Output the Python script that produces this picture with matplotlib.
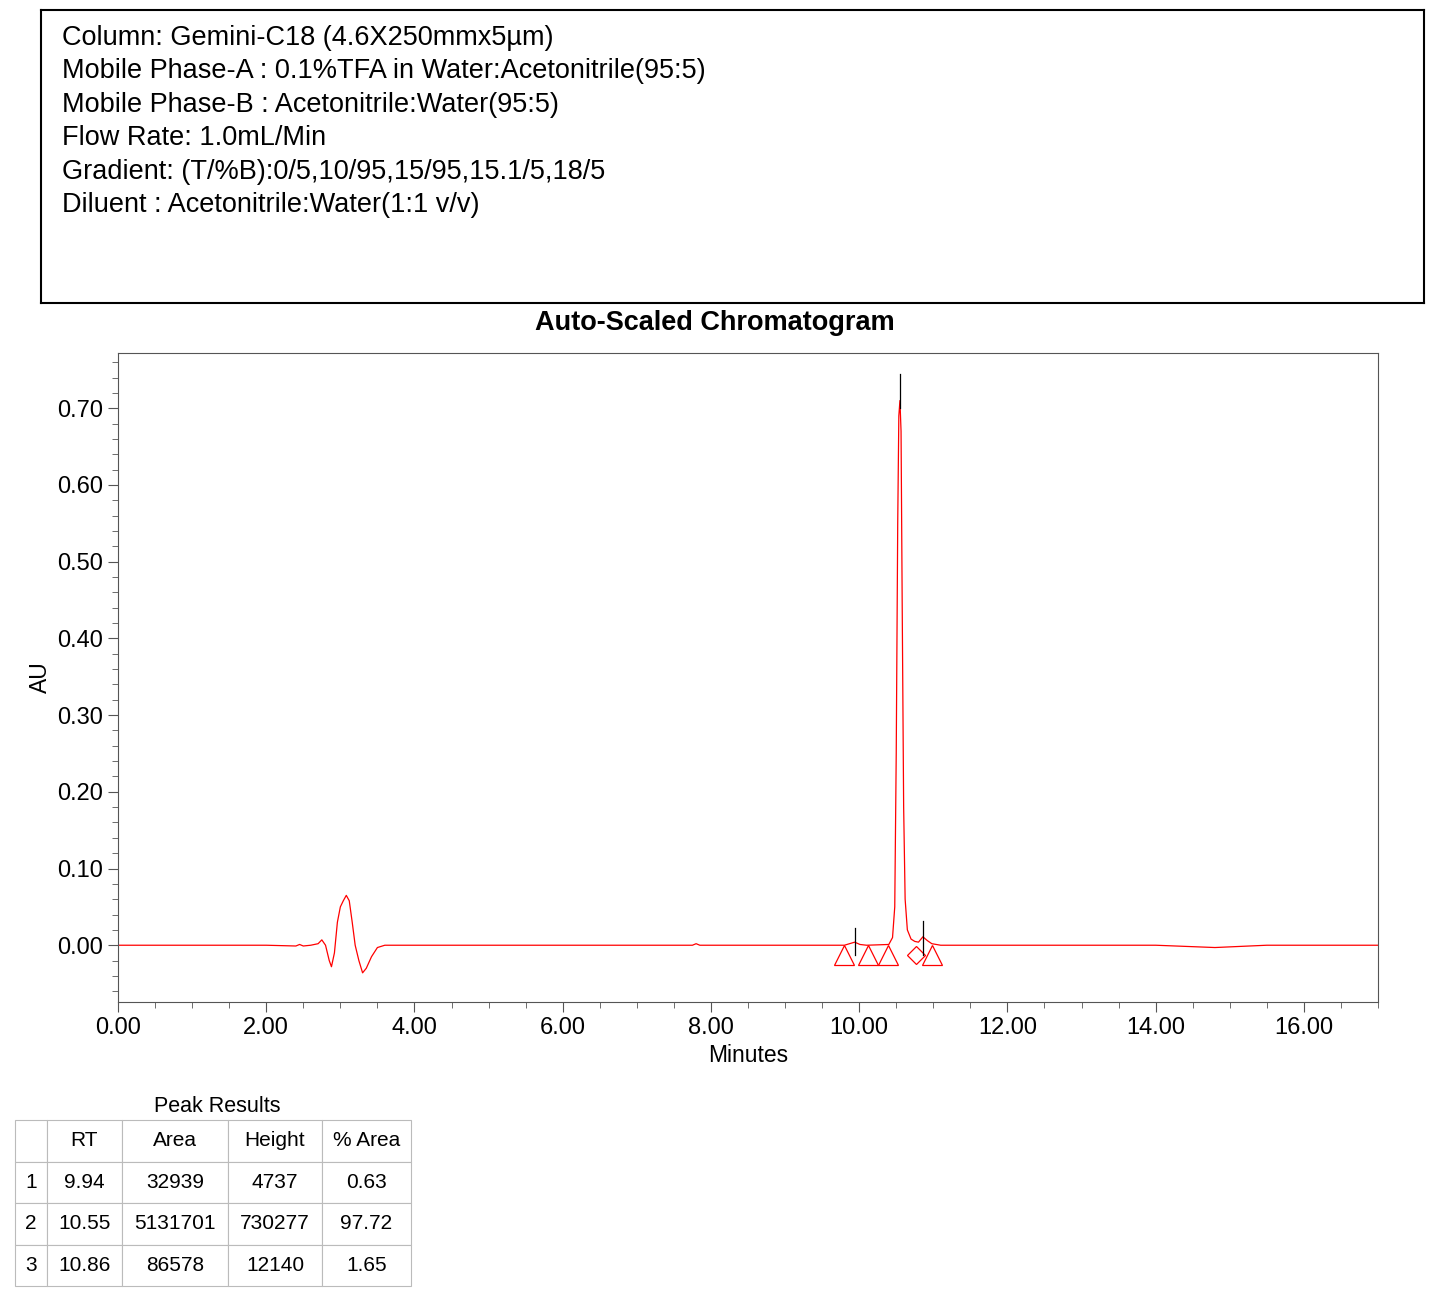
import matplotlib
matplotlib.use("Agg")
import matplotlib.pyplot as plt
from matplotlib.ticker import MultipleLocator, FormatStrFormatter

info_lines = [
    "Column: Gemini-C18 (4.6X250mmx5µm)",
    "Mobile Phase-A : 0.1%TFA in Water:Acetonitrile(95:5)",
    "Mobile Phase-B : Acetonitrile:Water(95:5)",
    "Flow Rate: 1.0mL/Min",
    "Gradient: (T/%B):0/5,10/95,15/95,15.1/5,18/5",
    "Diluent : Acetonitrile:Water(1:1 v/v)",
]
trace_t = [0.0, 1.0, 2.0, 2.4, 2.45, 2.5, 2.6, 2.7, 2.75, 2.8, 2.85, 2.88, 2.92, 2.96, 3.0, 3.04, 3.08, 3.12,
           3.16, 3.2, 3.25, 3.3, 3.35, 3.42, 3.5, 3.6, 4.0, 6.0, 7.75, 7.8, 7.85, 9.5, 9.8, 9.87, 9.94, 10.01, 10.1,
           10.4, 10.45, 10.48, 10.5, 10.52, 10.535, 10.55, 10.565, 10.58, 10.6, 10.62, 10.65, 10.7, 10.75, 10.8,
           10.86, 10.92, 10.98, 11.1, 12.0, 14.0, 14.8, 15.5, 17.0]
trace_au = [0.0, 0.0, 0.0, -0.001, 0.001, -0.001, 0.0, 0.002, 0.007, 0.0, -0.02, -0.028, -0.01, 0.03, 0.05,
            0.058, 0.065, 0.058, 0.03, 0.0, -0.02, -0.036, -0.03, -0.015, -0.003, 0.0, 0.0, 0.0, 0.0, 0.002, 0.0,
            0.0, 0.0, 0.002, 0.004, 0.001, 0.0, 0.001, 0.01, 0.05, 0.25, 0.55, 0.69, 0.71, 0.67, 0.45, 0.18, 0.06,
            0.02, 0.008, 0.005, 0.004, 0.011, 0.006, 0.002, 0.0, 0.0, 0.0, -0.003, 0.0, 0.0]
tri_t = [9.80, 10.12, 10.39, 10.98]
dia_t = [10.76]
rt_ticks = [(9.94, 0.022, -0.013), (10.55, 0.745, 0.70), (10.86, 0.031, -0.013)]
table_cols = ["", "RT", "Area", "Height", "% Area"]
table_rows = [["1", "9.94", "32939", "4737", "0.63"],
              ["2", "10.55", "5131701", "730277", "97.72"],
              ["3", "10.86", "86578", "12140", "1.65"]]

W, H = 1445, 1312
fig = plt.figure(figsize=(W/100, H/100), dpi=100)
plt.rcParams['font.family'] = ['Liberation Sans', 'DejaVu Sans']

bx = fig.add_axes([41/W, 1-303/H, (1424-41)/W, (303-10)/H])
bx.set_xticks([]); bx.set_yticks([])
for s in bx.spines.values():
    s.set_linewidth(1.5)
for i, line in enumerate(info_lines):
    fig.text(62/W, 1-(38+33.4*i)/H, line, fontsize=19.5, va='center', ha='left')

fig.text(715/W, 1-323/H, "Auto-Scaled Chromatogram", fontsize=19.5, fontweight='bold', ha='center', va='center')

ax = fig.add_axes([118/W, 1-1002/H, (1378-118)/W, (1002-353)/H])
ax.plot(trace_t, trace_au, color='red', lw=0.9)
ax.plot(tri_t, [-0.013]*len(tri_t), ls='none', marker='^', ms=14, mfc='none', mec='red', mew=0.9)
ax.plot(dia_t, [-0.013], ls='none', marker='D', ms=9, mfc='none', mec='red', mew=0.9)
for t, y0, y1 in rt_ticks:
    ax.plot([t, t], [y0, y1], color='black', lw=0.9)
ax.set_xlim(0, 17.0)
ax.set_ylim(-0.074, 0.772)
ax.xaxis.set_major_locator(MultipleLocator(2))
ax.xaxis.set_minor_locator(MultipleLocator(0.5))
ax.yaxis.set_major_locator(MultipleLocator(0.1))
ax.yaxis.set_minor_locator(MultipleLocator(0.02))
ax.xaxis.set_major_formatter(FormatStrFormatter('%.2f'))
ax.yaxis.set_major_formatter(FormatStrFormatter('%.2f'))
ax.tick_params(which='major', direction='out', length=7, labelsize=17, color='#555555')
ax.tick_params(which='minor', direction='out', length=4, color='#555555')
for s in ax.spines.values():
    s.set_color('#555555')
ax.set_xlabel("Minutes", fontsize=16.5)
ax.set_ylabel("AU", fontsize=16.5)

fig.text(217/W, 1-1106/H, "Peak Results", fontsize=15.5, ha='center', va='center')
tx = fig.add_axes([15/W, 1-1286/H, (411-15)/W, (1286-1120)/H])
tx.axis('off')
tbl = tx.table(cellText=table_rows, colLabels=table_cols, cellLoc='center',
               colWidths=[32, 75, 106, 94, 89], bbox=[0, 0, 1, 1])
tbl.auto_set_font_size(False)
tbl.set_fontsize(15)
for c in tbl.get_celld().values():
    c.set_edgecolor('#bbbbbb')
    c.set_linewidth(0.8)

fig.savefig("out.png", dpi=100)
